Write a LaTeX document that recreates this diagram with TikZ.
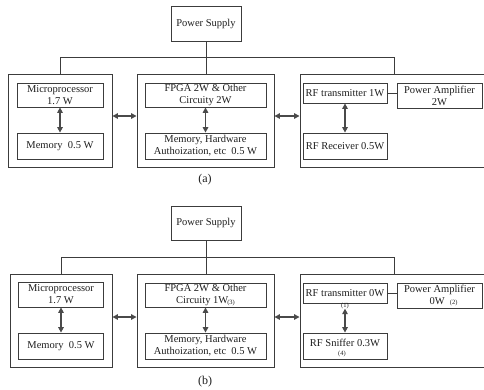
\documentclass[tikz,border=0pt]{standalone}
\usepackage{fontspec}
\setmainfont{Liberation Serif}
\usetikzlibrary{arrows.meta}
\definecolor{boxc}{HTML}{3C3C3C}
\definecolor{arrc}{HTML}{4A4A4A}
\definecolor{txt}{HTML}{1E1E1E}
\begin{document}
\begin{tikzpicture}[x=1pt,y=-1pt,
  bigbox/.style={draw=boxc, line width=0.9pt, inner sep=0pt},
  box/.style={draw=boxc, line width=0.8pt, inner sep=0pt, align=center, text=txt,
    font=\fontsize{10.5}{12}\selectfont},
  arr/.style={{Triangle[length=5.5pt,width=5.5pt]}-{Triangle[length=5.5pt,width=5.5pt]}, draw=arrc, line width=1.7pt},
  wire/.style={draw=boxc, line width=0.8pt},
  note/.style={inner sep=0pt, text=txt, font=\fontsize{6.5}{6.5}\selectfont},
  captext/.style={inner sep=0pt, text=txt, font=\fontsize{12}{12}\selectfont}]
\useasboundingbox (0,0) rectangle (484,389);

% ---------- (a) ----------
\node[box, minimum width=70, minimum height=35] (psA) at (206,23.5) {Power Supply};
\node[bigbox, minimum width=104, minimum height=93] (lA) at (60,120.5) {};
\node[bigbox, minimum width=137, minimum height=93] (mA) at (205.5,120.5) {};
\node[bigbox, minimum width=188, minimum height=93] (rA) at (394,120.5) {};
\node[box, minimum width=86, minimum height=24] (mpA) at (60,95) {Microprocessor\\1.7 W};
\node[box, minimum width=86, minimum height=26] (memA) at (60,146) {Memory~~0.5 W};
\node[box, minimum width=121, minimum height=24] (fpA) at (205.5,95) {FPGA 2W \& Other\\Circuity 2W};
\node[box, minimum width=121, minimum height=26] (hwA) at (205.5,146) {Memory, Hardware\\Authoization, etc~~0.5 W};
\node[box, minimum width=84, minimum height=20] (txA) at (345,93) {RF transmitter 1W};
\node[box, minimum width=85, minimum height=25] (paA) at (439.5,95.5) {Power Amplifier\\2W};
\node[box, minimum width=84, minimum height=26] (rxA) at (345,146) {RF Receiver 0.5W};
\coordinate (busA) at (0,57);
\draw[wire] (psA.south) -- (psA.south |- mA.north);
\draw[wire] (lA.north) -- (lA.north |- busA) -- (rA.north |- busA) -- (rA.north);
\draw[wire] (txA.east) -- (paA.west |- txA.east);
\draw[arr] (mpA.south) -- (memA.north);
\draw[arr] (fpA.south) -- (hwA.north);
\draw[arr] (txA.south) -- (rxA.north);
\draw[arr] ([yshift=4.5pt]lA.east) -- ([yshift=4.5pt]mA.west);
\draw[arr] ([yshift=4.5pt]mA.east) -- ([yshift=4.5pt]rA.west);
\node[captext] (capA) at (205,180) {(a)};

% ---------- (b) ----------
\node[box, minimum width=70, minimum height=34] (psB) at (206,223) {Power Supply};
\node[bigbox, minimum width=102, minimum height=93] (lB) at (61,320.5) {};
\node[bigbox, minimum width=137, minimum height=93] (mB) at (205.5,320.5) {};
\node[bigbox, minimum width=188, minimum height=93] (rB) at (394,320.5) {};
\node[box, minimum width=85, minimum height=25] (mpB) at (61,294.5) {Microprocessor\\1.7 W};
\node[box, minimum width=85, minimum height=26] (memB) at (61,346) {Memory~~0.5 W};
\node[box, minimum width=121, minimum height=24] (fpB) at (205.5,295) {FPGA 2W \& Other\\Circuity 1W\kern-1pt\raisebox{-1.5pt}{\fontsize{6.5}{6.5}\selectfont(3)}};
\node[box, minimum width=121, minimum height=26] (hwB) at (205.5,346) {Memory, Hardware\\Authoization, etc~~0.5 W};
\node[box, minimum width=84, minimum height=20] (txB) at (345,293) {RF transmitter 0W};
\node[note] (n1) at (345,305.5) {(1)};
\node[box, minimum width=85, minimum height=25] (paB) at (439.5,295.5) {Power Amplifier\\\hspace*{8pt}0W~~{\fontsize{6.5}{6.5}\selectfont(2)}};
\node[box, minimum width=84, minimum height=26] (rxB) at (345,346) {};
\node[inner sep=0pt, text=txt, font=\fontsize{10.5}{12}\selectfont] (rxBt) at (345,343) {RF Sniffer 0.3W};
\node[note] (n4) at (342,354) {(4)};
\coordinate (busB) at (0,257);
\draw[wire] (psB.south) -- (psB.south |- mB.north);
\draw[wire] (lB.north) -- (lB.north |- busB) -- (rB.north |- busB) -- (rB.north);
\draw[wire] (txB.east) -- (paB.west |- txB.east);
\draw[arr] (mpB.south) -- (memB.north);
\draw[arr] (fpB.south) -- (hwB.north);
\draw[arr] (n1.south) -- (rxB.north);
\draw[arr] ([yshift=3.5pt]lB.east) -- ([yshift=3.5pt]mB.west);
\draw[arr] ([yshift=3.5pt]mB.east) -- ([yshift=3.5pt]rB.west);
\node[captext] (capB) at (205,382) {(b)};
\end{tikzpicture}
\end{document}
